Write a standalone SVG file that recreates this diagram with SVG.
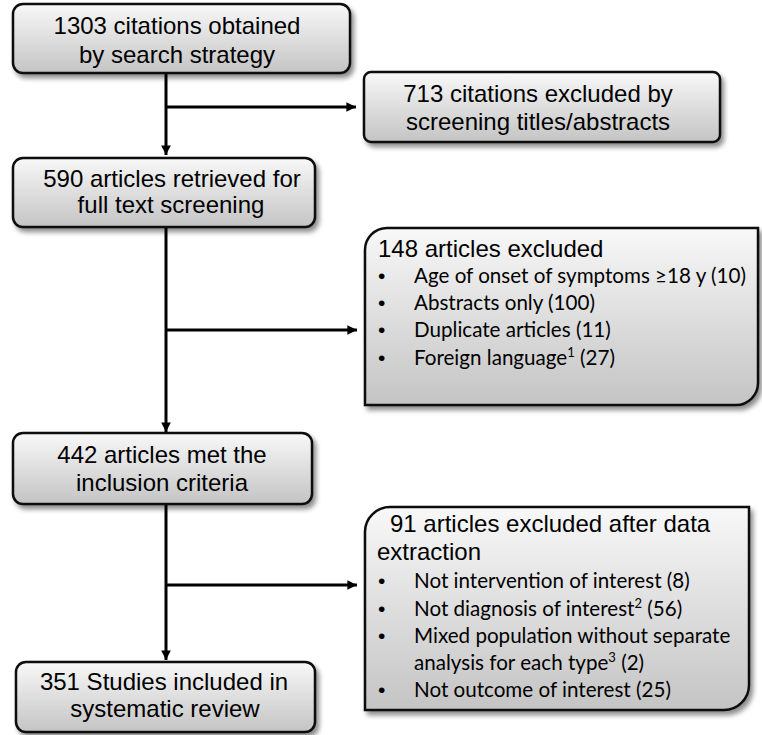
<svg xmlns="http://www.w3.org/2000/svg" width="762" height="735" viewBox="0 0 762 735">
<defs>
<linearGradient id="g" x1="0" y1="0" x2="0" y2="1">
<stop offset="0" stop-color="#f8f8f8"/>
<stop offset="1" stop-color="#c4c4c4"/>
</linearGradient>
<filter id="sh" x="-10%" y="-10%" width="125%" height="130%">
<feGaussianBlur in="SourceAlpha" stdDeviation="2.5"/>
<feOffset dx="3" dy="4" result="b"/>
<feComponentTransfer><feFuncA type="linear" slope="0.45"/></feComponentTransfer>
<feMerge><feMergeNode/><feMergeNode in="SourceGraphic"/></feMerge>
</filter>
<marker id="ah" viewBox="0 0 10 10" refX="10" refY="5" markerWidth="3.4" markerHeight="3.2" orient="auto" markerUnits="strokeWidth">
<path d="M0,0 L10,5 L0,10 Z" fill="#000"/>
</marker>
<style>
.box{fill:url(#g);stroke:#111;stroke-width:2.5;filter:url(#sh)}
.t{font-family:"Liberation Sans",Arial,sans-serif;font-size:24px;fill:#000}
.c{text-anchor:middle}
.b{font-family:Lato,"Noto Sans",sans-serif;font-size:20.6px;fill:#000}
.d{font-family:"Liberation Sans",Arial,sans-serif;font-size:21px;fill:#000}
.ln{stroke:#000;stroke-width:3;fill:none}
.sup{font-size:13px}
</style>
</defs>
<g id="connectors">
<path class="ln" d="M166,73 V155" marker-end="url(#ah)"/>
<path class="ln" d="M166,107 H356" marker-end="url(#ah)"/>
<path class="ln" d="M166,227 V432" marker-end="url(#ah)"/>
<path class="ln" d="M166,330 H357" marker-end="url(#ah)"/>
<path class="ln" d="M166,504 V660" marker-end="url(#ah)"/>
<path class="ln" d="M166,585 H357" marker-end="url(#ah)"/>
</g>
<g id="n1">
<rect class="box" x="13" y="4" width="337" height="69" rx="10"/>
<text class="t c" x="177" y="34">1303 citations obtained</text>
<text class="t c" x="177" y="63">by search strategy</text>
</g>
<g id="n2">
<rect class="box" x="364" y="72" width="356" height="70" rx="7"/>
<text class="t c" x="538" y="102">713 citations excluded by</text>
<text class="t c" x="538" y="130">screening titles/abstracts</text>
</g>
<g id="n3">
<rect class="box" x="13" y="158" width="302" height="69" rx="10"/>
<text class="t c" x="172" y="187">590 articles retrieved for</text>
<text class="t c" x="171" y="213">full text screening</text>
</g>
<g id="n4">
<path class="box" d="M365,250 A22,22 0 0 1 387,228 H758 V383 A22,22 0 0 1 736,405 H365 Z"/>
<text class="t" x="378" y="257">148 articles excluded</text>
<text class="d" x="378" y="283">•</text><text class="b" x="414" y="283">Age of onset of symptoms ≥18 y (10)</text>
<text class="d" x="378" y="310">•</text><text class="b" x="414" y="310">Abstracts only (100)</text>
<text class="d" x="378" y="337">•</text><text class="b" x="414" y="337">Duplicate articles (11)</text>
<text class="d" x="378" y="365">•</text><text class="b" x="414" y="365">Foreign language<tspan class="sup" dy="-8">1</tspan><tspan dy="8"> (27)</tspan></text>
</g>
<g id="n5">
<rect class="box" x="13" y="433" width="299" height="71" rx="10"/>
<text class="t c" x="162" y="463">442 articles met the</text>
<text class="t c" x="162" y="491">inclusion criteria</text>
</g>
<g id="n6">
<path class="box" d="M365,532 A25,25 0 0 1 390,507 H749 V685 A25,25 0 0 1 724,710 H365 Z"/>
<text class="t" x="390" y="532">91 articles excluded after data</text>
<text class="t" x="377" y="560">extraction</text>
<text class="d" x="378" y="588">•</text><text class="b" x="414" y="588">Not intervention of interest (8)</text>
<text class="d" x="378" y="616">•</text><text class="b" x="414" y="616">Not diagnosis of interest<tspan class="sup" dy="-8">2</tspan><tspan dy="8"> (56)</tspan></text>
<text class="d" x="378" y="643">•</text><text class="b" x="414" y="643">Mixed population without separate</text>
<text class="b" x="414" y="670">analysis for each type<tspan class="sup" dy="-8">3</tspan><tspan dy="8"> (2)</tspan></text>
<text class="d" x="378" y="697">•</text><text class="b" x="414" y="697">Not outcome of interest (25)</text>
</g>
<g id="n7">
<rect class="box" x="16" y="662" width="299" height="70" rx="10"/>
<text class="t c" x="164" y="690">351 Studies included in</text>
<text class="t c" x="165" y="717">systematic review</text>
</g>
</svg>
